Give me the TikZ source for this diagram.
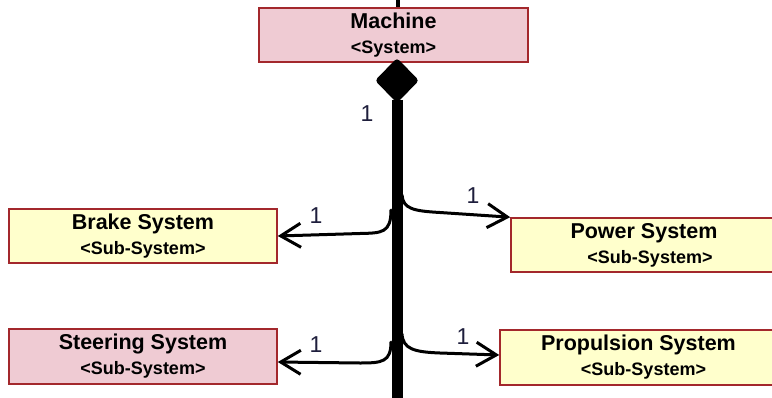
\documentclass[tikz,border=0pt]{standalone}
\usepackage{fontspec}
\setmainfont{Liberation Sans}
\usetikzlibrary{shapes.geometric,arrows.meta,calc}

\definecolor{boxborder}{HTML}{A3282C}
\definecolor{sysfill}{HTML}{EFCBD3}
\definecolor{subfill}{HTML}{FFFFCC}
\definecolor{multcol}{HTML}{1E1E3C}

\newcommand{\titletext}[1]{{\fontsize{21.5}{24}\selectfont\bfseries #1}}
\newcommand{\stereotext}[1]{{\fontsize{18}{24}\selectfont\bfseries #1}}

\tikzset{
  blockbox/.style={draw=boxborder, line width=1.6pt, minimum height=54pt,
    inner sep=0pt, align=center, text=black,
    font=\fontsize{21}{25}\selectfont},
  sysbox/.style={blockbox, fill=sysfill},
  subbox/.style={blockbox, fill=subfill},
  assoc/.style={line width=3pt, line cap=round,
    -{Straight Barb[length=20pt,width=24pt,line width=3pt]}},
  mult/.style={font=\fontsize{23}{26}\selectfont, text=multcol, inner sep=0pt},
  trunk/.style={line width=11pt},
}

\begin{document}
\begin{tikzpicture}[x=1pt,y=-1pt]
  \clip (0,0) rectangle (772,397);
  \fill[white] (0,0) rectangle (772,397);

  % blocks
  \node[sysbox, minimum width=269pt] (machine) at (393.5,35)
    {\titletext{Machine}\\\stereotext{<System>}};
  \node[subbox, minimum width=268pt] (brake) at (143,236)
    {\titletext{Brake System}\\\stereotext{<Sub-System>}};
  \node[subbox, minimum width=266pt] (power) at (644,245)
    {\titletext{Power System}\\\stereotext{\hspace*{12pt}<Sub-System>}};
  \node[sysbox, minimum width=268pt, minimum height=55pt] (steer) at (143,356.5)
    {\titletext{Steering System}\\\stereotext{<Sub-System>}};
  \node[subbox, minimum width=277pt, minimum height=55pt] (prop) at (638.5,357.5)
    {\titletext{Propulsion System}\\\stereotext{\hspace*{10pt}<Sub-System>}};

  % link leaving the top of the machine block
  \coordinate (upend) at (398,-2);
  \draw[line width=4pt] (upend) -- (upend |- machine.north);

  % composition diamond and trunk
  \node[diamond, fill=black, draw=black, line width=1pt, rounded corners=3pt,
        minimum width=43pt, minimum height=44pt, inner sep=0pt] (comp) at (397,80.5) {};
  \coordinate (trunkend) at (397,402);
  \draw[trunk] ($(comp.south)+(0,-3)$) -- (trunkend);
  \node[mult] (m0) at (367,114) {1};

  % branch points on the trunk
  \coordinate (jb) at (391,210);
  \coordinate (jp) at (402,195);
  \coordinate (js) at (391,342);
  \coordinate (jq) at (402,334);

  % branches to the sub-systems
  \draw[assoc] (jb) .. controls (391,233) and (382,233) .. (360,233.5) -- (brake.east);
  \draw[assoc] (jp) .. controls (403,209) and (414,211) .. (440,212.5) -- (power.north west);
  \draw[assoc] (js) .. controls (391,362) and (382,363) .. (360,363) -- ($(steer.east)+(0,5.5)$);
  \draw[assoc] (jq) .. controls (403,349) and (414,352) .. (440,353) -- ($(prop.west)+(0,-2.5)$);

  % multiplicities
  \node[mult] (mb) at (316,216) {1};
  \node[mult] (mp) at (473,196) {1};
  \node[mult] (ms) at (316,345) {1};
  \node[mult] (mq) at (463,337) {1};
\end{tikzpicture}
\end{document}
